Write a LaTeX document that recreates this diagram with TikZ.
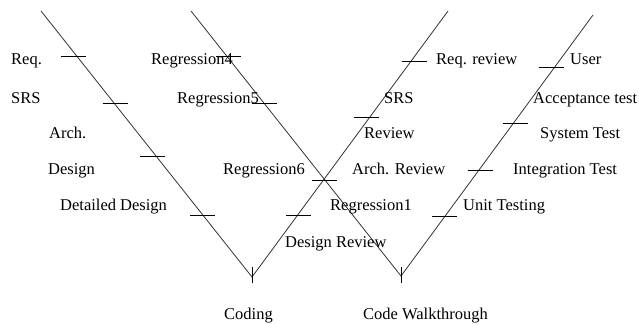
\documentclass[tikz,border=0pt]{standalone}
\usepackage{fontspec}
\setmainfont{Liberation Serif}

\begin{document}
\begin{tikzpicture}[
    x=1pt, y=-1pt,
    arm/.style={draw=black!80, line width=0.8pt},
    tickmark/.style={draw=black, line width=0.9pt},
    lbl/.style={anchor=base west, inner sep=0pt, font=\fontsize{16.5}{19}\selectfont},
]
    \useasboundingbox (0,0) rectangle (639,324);

    % the two V's
    \coordinate (devtop) at (41,11);
    \coordinate (devbot) at (252,277);
    \coordinate (devend) at (448,11);
    \coordinate (tsttop) at (191,11);
    \coordinate (tstbot) at (401,276);
    \coordinate (tstend) at (593,15);

    \draw[arm] (devtop) -- (devbot) -- (devend);
    \draw[arm] (tsttop) -- (tstbot) -- (tstend);
    \draw[tickmark] (devbot) ++(0,-10) -- ++(0,16);
    \draw[tickmark] (tstbot) ++(0,-9) -- ++(0,16);

    % phase marks on the arms
    \foreach \cx/\cy in {73/56, 115/103, 152.5/156, 202.5/215,
                         228.5/56, 264/103, 324/180,
                         298.5/215, 366.5/117, 414/61,
                         444.5/216, 480/170, 515/123, 551/67}
        \draw[tickmark] (\cx-12.5,\cy) -- (\cx+12.5,\cy);

    % left side
    \node [lbl] (req)     at (11,64)  {Req.};
    \node [lbl] (srs)     at (11,103) {SRS};
    \node [lbl] (arch)    at (49,138) {Arch.};
    \node [lbl] (design)  at (48,174) {Design};
    \node [lbl] (detail)  at (60,210) {Detailed Design};
    \node [lbl] (coding)  at (224,319) {Coding};

    % regression labels
    \node [lbl] (reg4) at (151,64)  {Regression4};
    \node [lbl] (reg5) at (177,103) {Regression5};
    \node [lbl] (reg6) at (223,174) {Regression6};
    \node [lbl] (reg1) at (330,210) {Regression1};

    % reviews
    \node [lbl] (desrev)  at (285,247) {Design Review};
    \node [lbl] (walk)    at (363,319) {Code Walkthrough};
    \node [lbl] (reqrev)  at (436,64)  {Req. review};
    \node [lbl] (srsrev)  at (384,103) {SRS};
    \node [lbl] (review)  at (364,138) {Review};
    \node [lbl] (archrev) at (352,174) {Arch. Review};

    % tests
    \node [lbl] (user)   at (570,64)  {User};
    \node [lbl] (accept) at (533,103) {Acceptance test};
    \node [lbl] (system) at (540,138) {System Test};
    \node [lbl] (integ)  at (513,174) {Integration Test};
    \node [lbl] (unit)   at (463,210) {Unit Testing};
\end{tikzpicture}
\end{document}
